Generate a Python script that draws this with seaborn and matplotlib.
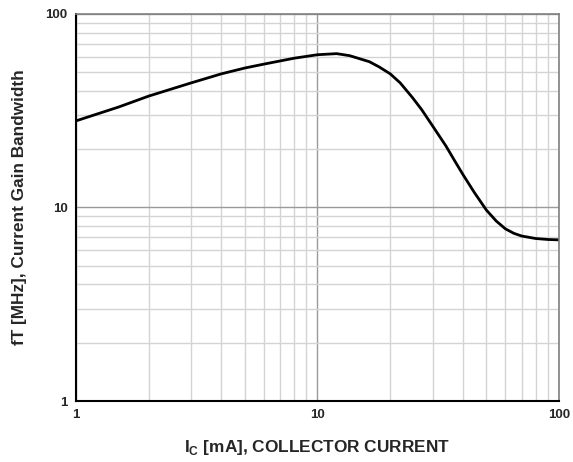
import numpy as np
import pandas as pd
import matplotlib
matplotlib.use("Agg")
import matplotlib.pyplot as plt
import seaborn as sns
from matplotlib.ticker import LogLocator, FixedLocator, NullFormatter

# =========================
# DATA
# =========================
ic_ma = [1, 1.5, 2, 3, 4, 5, 6, 8, 10, 12, 13.6, 16.4, 18, 20, 22,
         24.7, 27, 30, 34, 37, 40, 44.5, 50, 55, 60, 65, 70, 80, 90, 100]
ft_mhz = [28, 33, 37.6, 44, 49, 52.5, 55, 59, 61.5, 62.3, 60.8, 56.6, 53.2, 49, 44,
          37, 32, 26.3, 20.8, 17.4, 14.8, 12.0, 9.7, 8.5, 7.75, 7.35, 7.12, 6.91, 6.83, 6.8]

x_ticks = [1, 10, 100]
y_ticks = [1, 10, 100]
x_label = "I$_\\mathregular{C}$ [mA], COLLECTOR CURRENT"
y_label = "fT [MHz], Current Gain Bandwidth"

df = pd.DataFrame({"ic": ic_ma, "ft": ft_mhz})

sns.set_style("white")
plt.rcParams["font.family"] = ["Liberation Sans", "DejaVu Sans"]

fig = plt.figure(figsize=(5.73, 4.62), dpi=100)
ax = fig.add_axes([0.1326, 0.132, 0.843, 0.838])

ax.set_xscale("log")
ax.set_yscale("log")
ax.set_xlim(1, 100)
ax.set_ylim(1, 100)

# grid: decades darker, minor lines lighter
ax.xaxis.set_minor_locator(LogLocator(base=10, subs=np.arange(2, 10)))
ax.yaxis.set_minor_locator(LogLocator(base=10, subs=np.arange(2, 10)))
ax.xaxis.set_minor_formatter(NullFormatter())
ax.yaxis.set_minor_formatter(NullFormatter())
ax.grid(which="minor", color="#d4d4d4", linewidth=1.0)
ax.grid(which="major", color="#9a9a9a", linewidth=1.0)
ax.set_axisbelow(True)

sns.lineplot(data=df, x="ic", y="ft", ax=ax, color="black", linewidth=2.0)

ax.xaxis.set_major_locator(FixedLocator(x_ticks))
ax.yaxis.set_major_locator(FixedLocator(y_ticks))
ax.set_xticklabels([str(t) for t in x_ticks], fontweight="bold", fontsize=9.5)
ax.set_yticklabels([str(t) for t in y_ticks], fontweight="bold", fontsize=9.5)
ax.tick_params(which="both", length=0, pad=6)

ax.set_xlabel(x_label, fontweight="bold", fontsize=12.4, labelpad=12)
ax.set_ylabel(y_label, fontweight="bold", fontsize=12.4, labelpad=13)

for side in ["left", "bottom"]:
    ax.spines[side].set_color("black")
    ax.spines[side].set_linewidth(1.5)
for side in ["top", "right"]:
    ax.spines[side].set_color("#808080")
    ax.spines[side].set_linewidth(1.2)

fig.savefig("out.png", dpi=100)
plt.close(fig)
